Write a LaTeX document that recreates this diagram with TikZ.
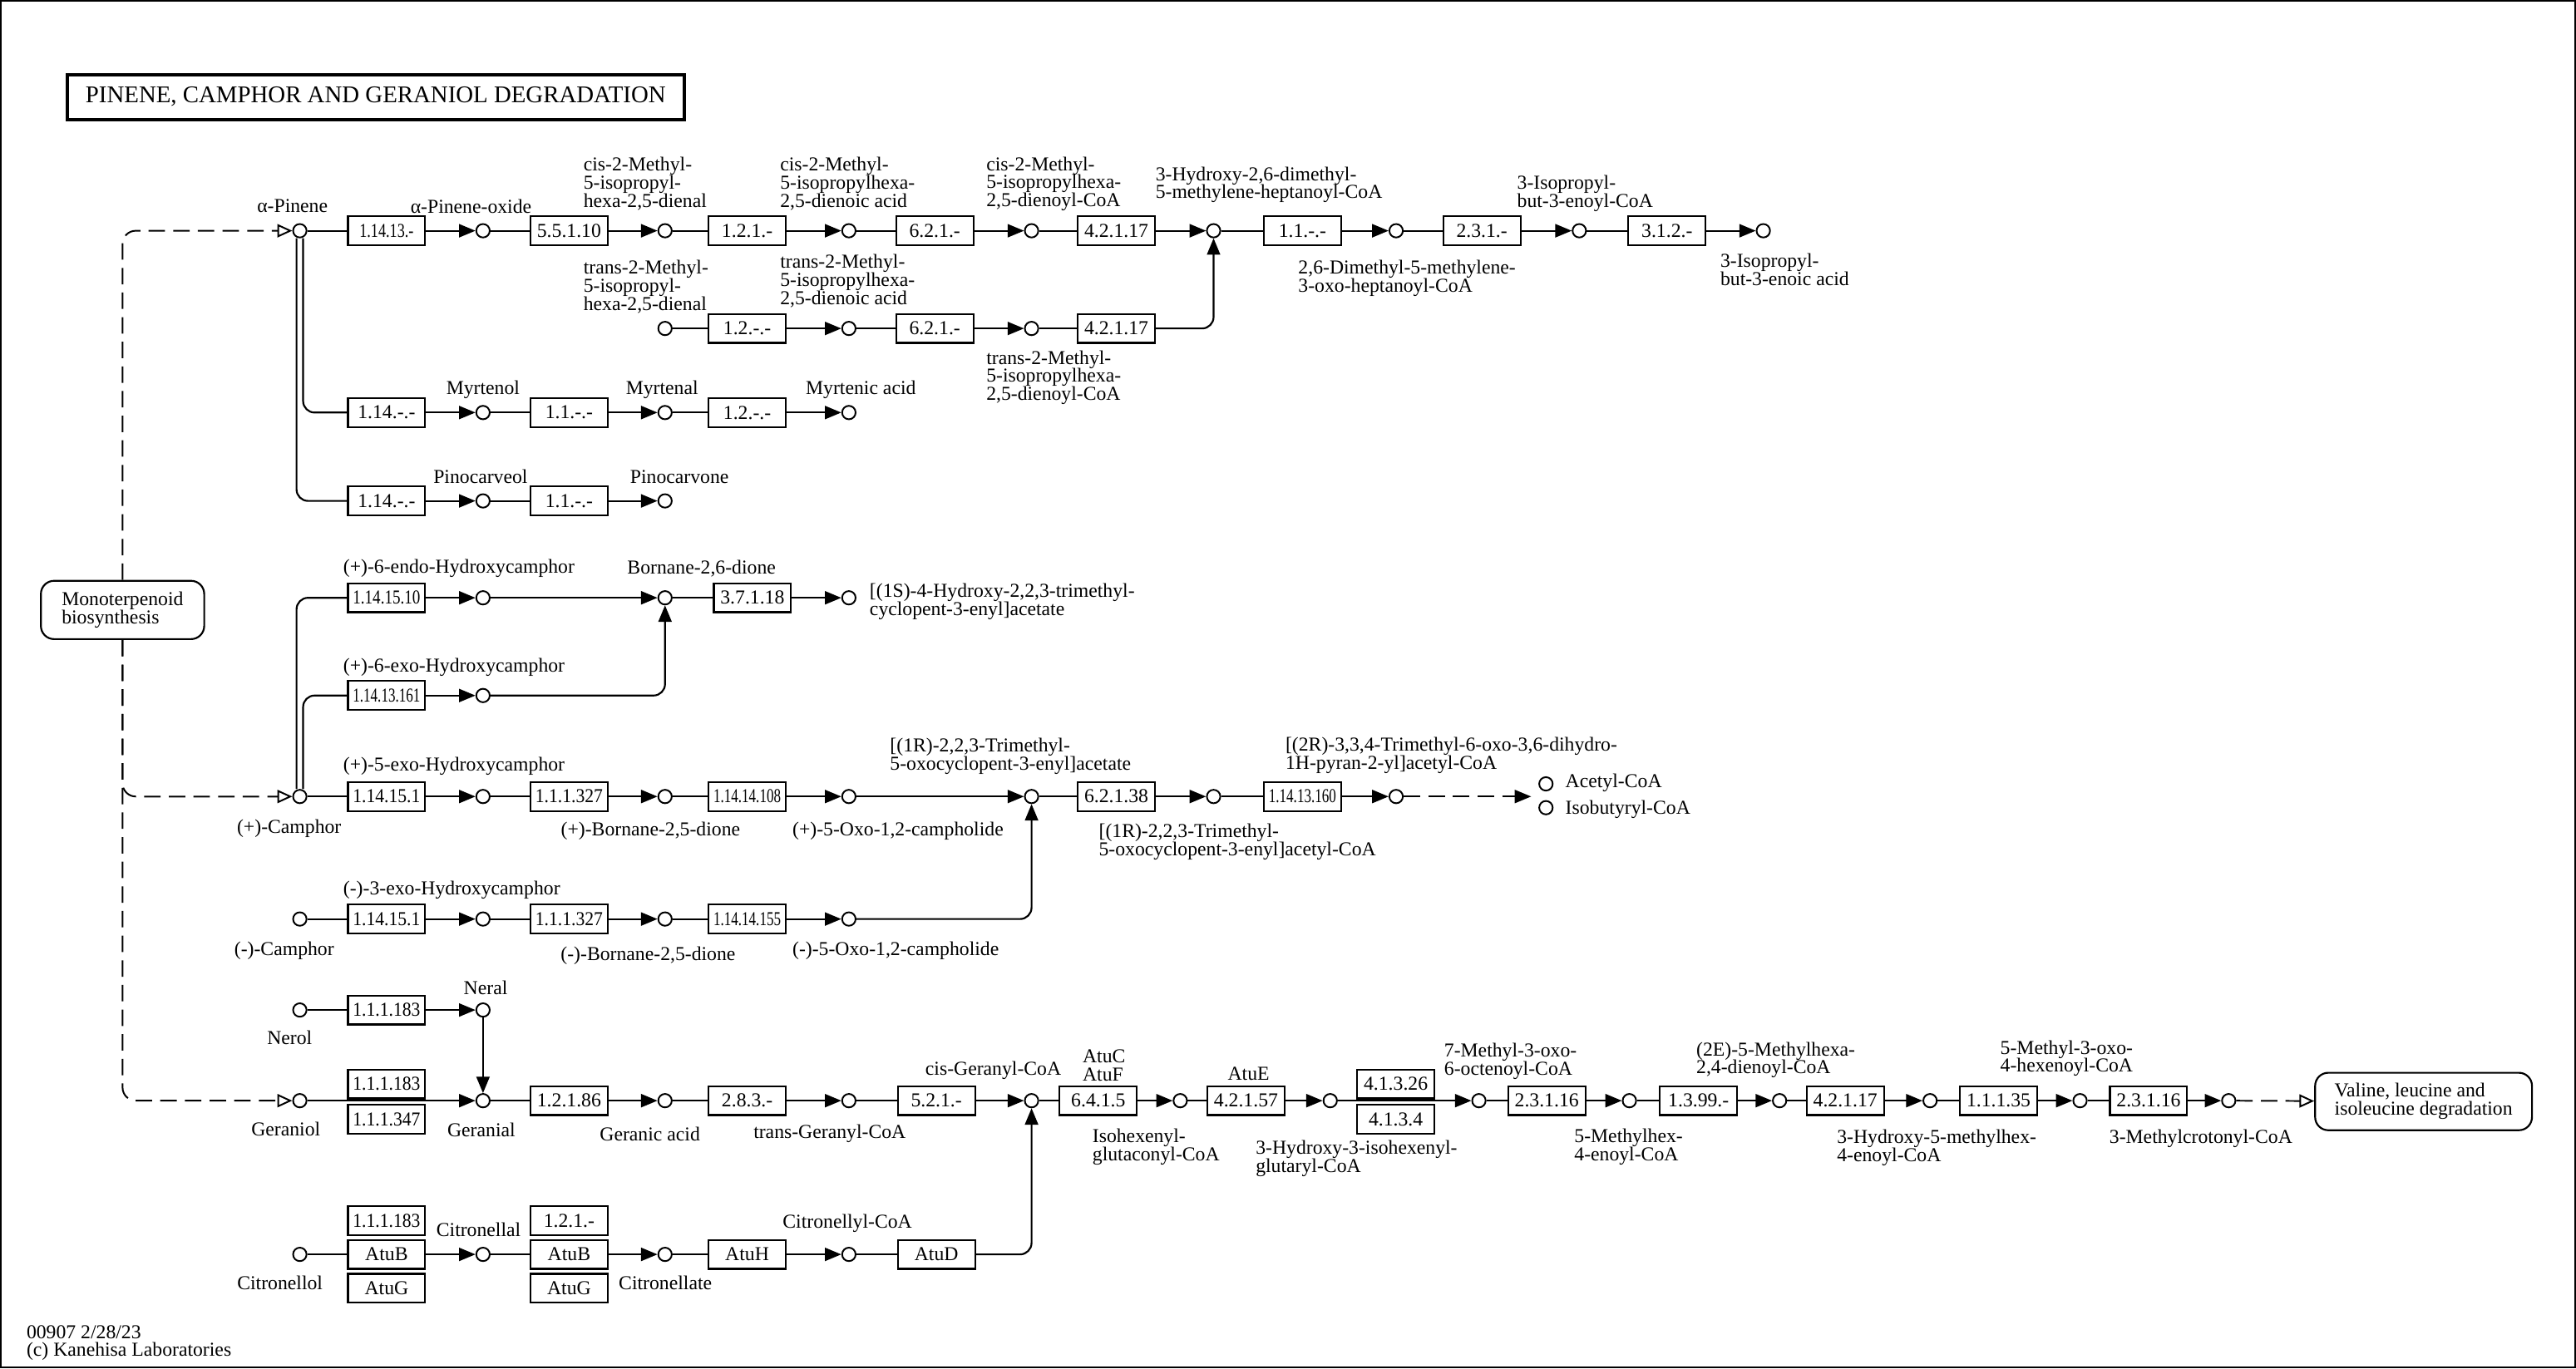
\documentclass[tikz,border=0pt]{standalone}
\usepackage{fontspec}
\setmainfont{Liberation Serif}
\usepackage{graphicx}
\usetikzlibrary{arrows.meta,positioning}
\newsavebox\ecbox
\newcommand{\fitec}[2][41pt]{\sbox\ecbox{#2}\ifdim\wd\ecbox>#1\relax\resizebox{#1}{\height}{#2}\else\usebox\ecbox\fi}

\begin{document}
\begin{tikzpicture}[x=1pt, y=-1pt, font=\fontsize{12}{11}\selectfont]
		\tikzstyle{cpd}=[circle, draw, line width=1pt, minimum size=8.2pt, inner sep=0pt]
		\tikzstyle{enz}=[rectangle, draw, line width=1.1pt, minimum width=47pt, minimum height=17.6pt, inner sep=0pt]
		\tikzstyle{mapbox}=[rectangle, rounded corners=8pt, draw, line width=1.1pt, align=left, inner sep=0pt]
		\tikzstyle{txt}=[inner sep=0pt, align=left]
		\tikzstyle{react}=[line width=1.1pt]
		\tikzstyle{connect}=[-{Triangle[length=10pt,width=8pt]}, line width=1.1pt]
		\tikzstyle{link}=[-{Triangle[open,length=9pt,width=8pt]}, line width=1pt, dash pattern=on 10pt off 5pt]
		\tikzstyle{dashconnect}=[-{Triangle[length=10pt,width=8pt]}, line width=1.1pt, dash pattern=on 10pt off 5pt]
		\useasboundingbox (0,0) rectangle (1568,833.1);
		\draw[line width=1pt] (0.5,0.5) rectangle (1567.3,832.4);
		\node[draw, line width=2pt, minimum width=375.7pt, minimum height=27.3pt, inner sep=0pt, font=\fontsize{14.6}{14.6}\selectfont] (title) at (228.7,59) {PINENE, CAMPHOR AND GERANIOL DEGRADATION};
		% pathway maps
		\node[mapbox, minimum width=99.4pt, minimum height=35.5pt] (mono) at (74.6,371.4) {Monoterpenoid\\biosynthesis};
		\node[mapbox, minimum width=132pt, minimum height=35pt] (val) at (1475.2,670.7) {Valine, leucine and\\isoleucine degradation};
		% alpha-pinene
		\node[cpd] (apin) at (182.5,140.5) {};
		\node[enz] (e1) at (235.3,140.5) {\fitec[33pt]{1.14.13.-}};
		\node[cpd] (apox) at (294,140.5) {};
		\node[enz] (e2) at (346.4,140.5) {\fitec{5.5.1.10}};
		\node[cpd] (cmd) at (404.8,140.5) {};
		\node[enz] (e3) at (454.8,140.5) {\fitec{1.2.1.-}};
		\node[cpd] (cma) at (516.7,140.5) {};
		\node[enz] (e4) at (569,140.5) {\fitec{6.2.1.-}};
		\node[cpd] (ccoa) at (627.9,140.5) {};
		\node[enz] (e5) at (679.5,140.5) {\fitec{4.2.1.17}};
		\node[cpd] (hdm) at (738.7,140.5) {};
		\node[enz] (e6) at (792.8,140.5) {\fitec{1.1.-.-}};
		\node[cpd] (dmo) at (849.8,140.5) {};
		\node[enz] (e7) at (902,140.5) {\fitec{2.3.1.-}};
		\node[cpd] (ipc) at (961.3,140.5) {};
		\node[enz] (e8) at (1014.7,140.5) {\fitec{3.1.2.-}};
		\node[cpd] (ipa) at (1073.3,140.5) {};
		\node[cpd] (tmd) at (404.8,200) {};
		\node[enz] (e9) at (454.8,200) {\fitec{1.2.-.-}};
		\node[cpd] (tma) at (516.7,200) {};
		\node[enz] (e10) at (569,200) {\fitec{6.2.1.-}};
		\node[cpd] (tcoa) at (627.9,200) {};
		\node[enz] (e11) at (679.5,200) {\fitec{4.2.1.17}};
		\node[enz] (e12) at (235.3,251.2) {\fitec{1.14.-.-}};
		\node[cpd] (myol) at (294,251.2) {};
		\node[enz] (e13) at (346.4,251.2) {\fitec{1.1.-.-}};
		\node[cpd] (myal) at (404.8,251.2) {};
		\node[enz] (e14) at (454.8,251.2) {\fitec{1.2.-.-}};
		\node[cpd] (myac) at (516.7,251.2) {};
		\node[enz] (e15) at (235.3,305) {\fitec{1.14.-.-}};
		\node[cpd] (pcol) at (294,305) {};
		\node[enz] (e16) at (346.4,305) {\fitec{1.1.-.-}};
		\node[cpd] (pcon) at (404.8,305) {};
		% camphor
		\node[enz] (e17) at (235.3,364) {\fitec{1.14.15.10}};
		\node[cpd] (endo) at (294,364) {};
		\node[cpd] (bdi) at (404.8,364) {};
		\node[enz] (e18) at (458,364) {\fitec{3.7.1.18}};
		\node[cpd] (hta) at (516.7,364) {};
		\node[enz] (e19) at (235.3,423.5) {\fitec{1.14.13.161}};
		\node[cpd] (exo) at (294,423.5) {};
		\node[cpd] (pcam) at (182.5,485) {};
		\node[enz] (e20) at (235.3,485) {\fitec{1.14.15.1}};
		\node[cpd] (pexo) at (294,485) {};
		\node[enz] (e21) at (346.4,485) {\fitec{1.1.1.327}};
		\node[cpd] (pbd) at (404.8,485) {};
		\node[enz] (e22) at (454.8,485) {\fitec{1.14.14.108}};
		\node[cpd] (poxo) at (516.7,485) {};
		\node[cpd] (tmca) at (627.9,485) {};
		\node[enz] (e23) at (679.5,485) {\fitec{6.2.1.38}};
		\node[cpd] (tmcoa) at (738.7,485) {};
		\node[enz] (e24) at (792.8,485) {\fitec{1.14.13.160}};
		\node[cpd] (pyr) at (849.8,485) {};
		\coordinate (acend) at (932,485);
		\node[cpd] (acoa) at (941,477.3) {};
		\node[cpd] (ibcoa) at (941,491.8) {};
		\node[cpd] (mcam) at (182.5,559.6) {};
		\node[enz] (e25) at (235.3,559.6) {\fitec{1.14.15.1}};
		\node[cpd] (mexo) at (294,559.6) {};
		\node[enz] (e26) at (346.4,559.6) {\fitec{1.1.1.327}};
		\node[cpd] (mbd) at (404.8,559.6) {};
		\node[enz] (e27) at (454.8,559.6) {\fitec{1.14.14.155}};
		\node[cpd] (moxo) at (516.7,559.6) {};
		% geraniol
		\node[cpd] (nerol) at (182.5,615) {};
		\node[enz] (e28) at (235.3,615) {\fitec{1.1.1.183}};
		\node[cpd] (neral) at (294,615) {};
		\node[cpd] (gerol) at (182.5,670.2) {};
		\node[enz] (e29) at (235.3,660) {\fitec{1.1.1.183}};
		\node[enz] (e30) [below=2.9pt of e29] {\fitec{1.1.1.347}};
		\node[cpd] (geral) at (294,670.2) {};
		\node[enz] (e31) at (346.4,670.2) {\fitec{1.2.1.86}};
		\node[cpd] (gac) at (404.8,670.2) {};
		\node[enz] (e32) at (454.8,670.2) {\fitec{2.8.3.-}};
		\node[cpd] (tgcoa) at (516.7,670.2) {};
		\node[enz] (e33) at (570,670.2) {\fitec{5.2.1.-}};
		\node[cpd] (cgcoa) at (627.9,670.2) {};
		\node[enz] (e34) at (668.5,670.2) {\fitec{6.4.1.5}};
		\node[cpd] (ihg) at (718.4,670.2) {};
		\node[enz] (e35) at (758.4,670.2) {\fitec{4.2.1.57}};
		\node[cpd] (hig) at (809.7,670.2) {};
		\node[enz] (e36) at (849.6,660) {\fitec{4.1.3.26}};
		\node[enz] (e37) [below=2.9pt of e36] {\fitec{4.1.3.4}};
		\node[cpd] (mooc) at (900.2,670.2) {};
		\node[enz] (e38) at (941.5,670.2) {\fitec{2.3.1.16}};
		\node[cpd] (mhe) at (991.8,670.2) {};
		\node[enz] (e39) at (1033.9,670.2) {\fitec{1.3.99.-}};
		\node[cpd] (mhd) at (1083.2,670.2) {};
		\node[enz] (e40) at (1123.2,670.2) {\fitec{4.2.1.17}};
		\node[cpd] (hmh) at (1174.8,670.2) {};
		\node[enz] (e41) at (1216.5,670.2) {\fitec{1.1.1.35}};
		\node[cpd] (mox) at (1266.1,670.2) {};
		\node[enz] (e42) at (1307.8,670.2) {\fitec{2.3.1.16}};
		\node[cpd] (mcr) at (1356.6,670.2) {};
		% citronellol
		\node[cpd] (citol) at (182.5,763.8) {};
		\node[enz] (e44) at (235.3,763.8) {AtuB};
		\node[enz] (e43) [above=1.9pt of e44] {\fitec{1.1.1.183}};
		\node[enz] (e45) [below=1.9pt of e44] {AtuG};
		\node[cpd] (cital) at (294,763.8) {};
		\node[enz] (e47) at (346.4,763.8) {AtuB};
		\node[enz] (e46) [above=1.9pt of e47] {\fitec{1.2.1.-}};
		\node[enz] (e48) [below=1.9pt of e47] {AtuG};
		\node[cpd] (citat) at (404.8,763.8) {};
		\node[enz] (e49) at (454.8,763.8) {AtuH};
		\node[cpd] (cicoa) at (516.7,763.8) {};
		\node[enz] (e50) at (570,763.8) {AtuD};
		% compound names
		\node[txt] (t-apin) at (178,125.5) {α-Pinene};
		\node[txt] (t-apox) at (286.7,125.5) {α-Pinene-oxide};
		\node[txt, anchor=west] (t-cmd) at (355,112) {cis-2-Methyl-\\5-isopropyl-\\hexa-2,5-dienal};
		\node[txt, anchor=west] (t-cma) at (474.7,112) {cis-2-Methyl-\\5-isopropylhexa-\\2,5-dienoic acid};
		\node[txt, anchor=west] (t-ccoa) at (600.2,112) {cis-2-Methyl-\\5-isopropylhexa-\\2,5-dienoyl-CoA};
		\node[txt, anchor=west] (t-hdm) at (703.2,112.5) {3-Hydroxy-2,6-dimethyl-\\5-methylene-heptanoyl-CoA};
		\node[txt, anchor=west] (t-ipc) at (923.3,118) {3-Isopropyl-\\but-3-enoyl-CoA};
		\node[txt, anchor=west] (t-dmo) at (790.1,169.4) {2,6-Dimethyl-5-methylene-\\3-oxo-heptanoyl-CoA};
		\node[txt, anchor=west] (t-ipa) at (1047,164) {3-Isopropyl-\\but-3-enoic acid};
		\node[txt, anchor=west] (t-tmd) at (355,174.7) {trans-2-Methyl-\\5-isopropyl-\\hexa-2,5-dienal};
		\node[txt, anchor=west] (t-tma) at (474.7,171.2) {trans-2-Methyl-\\5-isopropylhexa-\\2,5-dienoic acid};
		\node[txt, anchor=west] (t-tcoa) at (600.2,229.9) {trans-2-Methyl-\\5-isopropylhexa-\\2,5-dienoyl-CoA};
		\node[txt] (t-myol) at (294,237.2) {Myrtenol};
		\node[txt] (t-myal) at (403,237.2) {Myrtenal};
		\node[txt] (t-myac) at (524,237.2) {Myrtenic acid};
		\node[txt] (t-pcol) at (292.5,290) {Pinocarveol};
		\node[txt] (t-pcon) at (413.6,290.5) {Pinocarvone};
		\node[txt, anchor=west] (t-endo) at (208.8,346.3) {(+)-6-endo-Hydroxycamphor};
		\node[txt] (t-bdi) at (427,346.3) {Bornane-2,6-dione};
		\node[txt, anchor=west] (t-hta) at (529.2,366.5) {[(1S)-4-Hydroxy-2,2,3-trimethyl-\\cyclopent-3-enyl]acetate};
		\node[txt, anchor=west] (t-exo) at (208.8,406.3) {(+)-6-exo-Hydroxycamphor};
		\node[txt, anchor=west] (t-pexo) at (208.8,466.5) {(+)-5-exo-Hydroxycamphor};
		\node[txt] (t-pcam) at (176,504.5) {(+)-Camphor};
		\node[txt] (t-pbd) at (396,506) {(+)-Bornane-2,5-dione};
		\node[txt, anchor=west] (t-poxo) at (482.2,506) {(+)-5-Oxo-1,2-campholide};
		\node[txt, anchor=west] (t-tmca) at (541.6,460.5) {[(1R)-2,2,3-Trimethyl-\\5-oxocyclopent-3-enyl]acetate};
		\node[txt, anchor=west] (t-tmcoa) at (668.7,512.5) {[(1R)-2,2,3-Trimethyl-\\5-oxocyclopent-3-enyl]acetyl-CoA};
		\node[txt, anchor=west] (t-pyr) at (782.3,460) {[(2R)-3,3,4-Trimethyl-6-oxo-3,6-dihydro-\\1H-pyran-2-yl]acetyl-CoA};
		\node[txt, anchor=west] (t-acoa) at (952.7,476.5) {Acetyl-CoA};
		\node[txt, anchor=west] (t-ibcoa) at (952.7,493) {Isobutyryl-CoA};
		\node[txt, anchor=west] (t-mexo) at (208.8,541.9) {(-)-3-exo-Hydroxycamphor};
		\node[txt] (t-mcam) at (173,579) {(-)-Camphor};
		\node[txt] (t-mbd) at (394.5,582) {(-)-Bornane-2,5-dione};
		\node[txt, anchor=west] (t-moxo) at (482.2,579) {(-)-5-Oxo-1,2-campholide};
		\node[txt] (t-neral) at (295.6,601.4) {Neral};
		\node[txt] (t-nerol) at (176.3,631.7) {Nerol};
		\node[txt] (t-gerol) at (174,687.4) {Geraniol};
		\node[txt] (t-geral) at (293,688) {Geranial};
		\node[txt] (t-gac) at (395.6,690.8) {Geranic acid};
		\node[txt] (t-tgcoa) at (505,690.5) {trans-Geranyl-CoA};
		\node[txt] (t-cgcoa) at (604.6,652) {cis-Geranyl-CoA};
		\node[txt, anchor=west] (t-atucf) at (658.8,648.6) {AtuC\\AtuF};
		\node[txt] (t-atue) at (760,653.7) {AtuE};
		\node[txt, anchor=west] (t-ihg) at (664.8,698.3) {Isohexenyl-\\glutaconyl-CoA};
		\node[txt, anchor=west] (t-hig) at (764.2,705.5) {3-Hydroxy-3-isohexenyl-\\glutaryl-CoA};
		\node[txt, anchor=west] (t-mooc) at (878.9,646.2) {7-Methyl-3-oxo-\\6-octenoyl-CoA};
		\node[txt, anchor=west] (t-mhe) at (958.1,698.3) {5-Methylhex-\\4-enoyl-CoA};
		\node[txt, anchor=west] (t-mhd) at (1032.4,645.5) {(2E)-5-Methylhexa-\\2,4-dienoyl-CoA};
		\node[txt, anchor=west] (t-hmh) at (1118,698.8) {3-Hydroxy-5-methylhex-\\4-enoyl-CoA};
		\node[txt, anchor=west] (t-mox) at (1217.4,644.4) {5-Methyl-3-oxo-\\4-hexenoyl-CoA};
		\node[txt, anchor=west] (t-mcr) at (1283.8,693.3) {3-Methylcrotonyl-CoA};
		\node[txt] (t-citol) at (170.4,781) {Citronellol};
		\node[txt] (t-cital) at (291.3,749) {Citronellal};
		\node[txt] (t-citat) at (405,781) {Citronellate};
		\node[txt] (t-cicoa) at (515.8,744.8) {Citronellyl-CoA};
		\node[txt, anchor=west] (foot) at (16,817.7) {00907 2/28/23\\(c) Kanehisa Laboratories};
		% reactions
		\path (apin) edge [react] (e1)
		(e1) edge [connect] (apox)
		(apox) edge [react] (e2)
		(e2) edge [connect] (cmd)
		(cmd) edge [react] (e3)
		(e3) edge [connect] (cma)
		(cma) edge [react] (e4)
		(e4) edge [connect] (ccoa)
		(ccoa) edge [react] (e5)
		(e5) edge [connect] (hdm)
		(hdm) edge [react] (e6)
		(e6) edge [connect] (dmo)
		(dmo) edge [react] (e7)
		(e7) edge [connect] (ipc)
		(ipc) edge [react] (e8)
		(e8) edge [connect] (ipa)
		(tmd) edge [react] (e9)
		(e9) edge [connect] (tma)
		(tma) edge [react] (e10)
		(e10) edge [connect] (tcoa)
		(tcoa) edge [react] (e11)
		(e12) edge [connect] (myol)
		(myol) edge [react] (e13)
		(e13) edge [connect] (myal)
		(myal) edge [react] (e14)
		(e14) edge [connect] (myac)
		(e15) edge [connect] (pcol)
		(pcol) edge [react] (e16)
		(e16) edge [connect] (pcon);
		\draw[connect, rounded corners=7pt] (e11.east) -| (hdm.south);
		\draw[react, rounded corners=7pt] ([xshift=2pt]apin.south) |- (e12.west);
		\draw[react, rounded corners=7pt] ([xshift=-2pt]apin.south) |- (e15.west);
		\path (e17) edge [connect] (endo)
		(endo) edge [connect] (bdi)
		(bdi) edge [react] (e18)
		(e18) edge [connect] (hta)
		(e19) edge [connect] (exo)
		(pcam) edge [react] (e20)
		(e20) edge [connect] (pexo)
		(pexo) edge [react] (e21)
		(e21) edge [connect] (pbd)
		(pbd) edge [react] (e22)
		(e22) edge [connect] (poxo)
		(poxo) edge [connect] (tmca)
		(tmca) edge [react] (e23)
		(e23) edge [connect] (tmcoa)
		(tmcoa) edge [react] (e24)
		(e24) edge [connect] (pyr)
		(pyr) edge [dashconnect] (acend)
		(mcam) edge [react] (e25)
		(e25) edge [connect] (mexo)
		(mexo) edge [react] (e26)
		(e26) edge [connect] (mbd)
		(mbd) edge [react] (e27)
		(e27) edge [connect] (moxo);
		\draw[connect, rounded corners=7pt] (exo.east) -| (bdi.south);
		\draw[connect, rounded corners=7pt] (moxo.east) -| (tmca.south);
		\draw[react, rounded corners=7pt] ([xshift=-2pt]pcam.north) |- (e17.west);
		\draw[react, rounded corners=7pt] ([xshift=2pt]pcam.north) |- (e19.west);
		\path (nerol) edge [react] (e28)
		(e28) edge [connect] (neral)
		(neral) edge [connect] (geral)
		(gerol) edge [connect] (geral)
		(geral) edge [react] (e31)
		(e31) edge [connect] (gac)
		(gac) edge [react] (e32)
		(e32) edge [connect] (tgcoa)
		(tgcoa) edge [react] (e33)
		(e33) edge [connect] (cgcoa)
		(cgcoa) edge [react] (e34)
		(e34) edge [connect] (ihg)
		(ihg) edge [react] (e35)
		(e35) edge [connect] (hig)
		(hig) edge [connect] (mooc)
		(mooc) edge [react] (e38)
		(e38) edge [connect] (mhe)
		(mhe) edge [react] (e39)
		(e39) edge [connect] (mhd)
		(mhd) edge [react] (e40)
		(e40) edge [connect] (hmh)
		(hmh) edge [react] (e41)
		(e41) edge [connect] (mox)
		(mox) edge [react] (e42)
		(e42) edge [connect] (mcr)
		(mcr) edge [link] (val)
		(citol) edge [react] (e44)
		(e44) edge [connect] (cital)
		(cital) edge [react] (e47)
		(e47) edge [connect] (citat)
		(citat) edge [react] (e49)
		(e49) edge [connect] (cicoa)
		(cicoa) edge [react] (e50);
		\draw[connect, rounded corners=7pt] (e50.east) -| (cgcoa.south);
		% links to other maps
		\draw[link, rounded corners=8pt] (mono.north) |- (apin);
		\draw[link, rounded corners=8pt] (mono.south) |- (pcam);
		\draw[link, rounded corners=8pt] (mono.south) |- (gerol);
\end{tikzpicture}
\end{document}
